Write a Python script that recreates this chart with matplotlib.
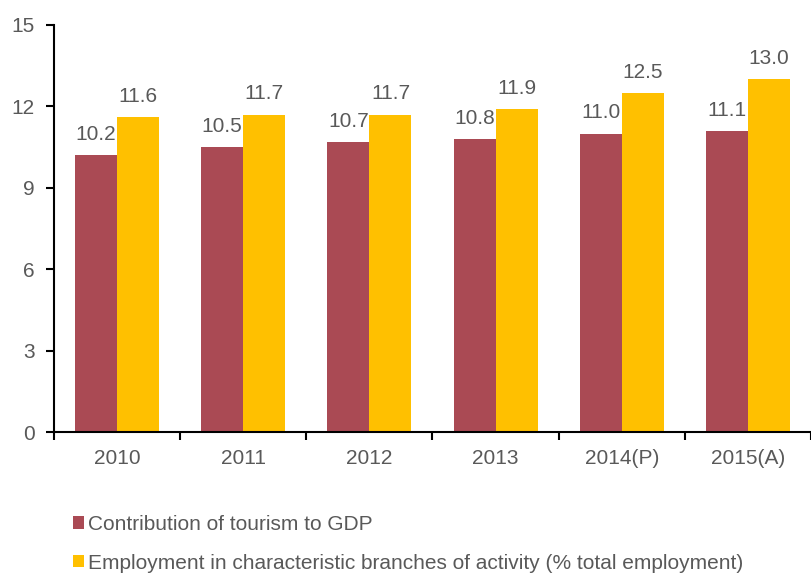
import matplotlib.pyplot as plt
import numpy as np

years = ['2010', '2011', '2012', '2013', '2014(P)', '2015(A)']
gdp = [10.2, 10.5, 10.7, 10.8, 11.0, 11.1]
employment = [11.6, 11.7, 11.7, 11.9, 12.5, 13.0]
series_names = ['Contribution of tourism to GDP',
                'Employment in characteristic branches of activity (% total employment)']

plt.rcParams['font.family'] = ['Liberation Sans', 'DejaVu Sans']
text_color = '#595959'
maroon = '#AA4A54'
gold = '#FFC000'
fs = 15

fig = plt.figure(figsize=(8.11, 5.74), dpi=100)
ax = fig.add_axes([54 / 811, 1 - 432 / 574, 1 - 54 / 811, (432 - 25) / 574])

x = np.arange(len(years))
w = 1 / 3
b1 = ax.bar(x - w / 2, gdp, w, color=maroon, label=series_names[0])
b2 = ax.bar(x + w / 2, employment, w, color=gold, label=series_names[1])

for bars, vals in ((b1, gdp), (b2, employment)):
    for bar, v in zip(bars, vals):
        ax.annotate(f'{v:.1f}', (bar.get_x() + bar.get_width() / 2, v),
                    xytext=(0, 8), textcoords='offset points',
                    ha='center', va='bottom', fontsize=fs, color=text_color)

ax.set_xlim(-0.5, len(years) - 0.5)
ax.set_ylim(0, 15)
ax.set_yticks(np.arange(0, 16, 3))
ax.set_xticks(x)
ax.set_xticklabels(years)
ax.set_xticks(np.arange(-0.5, len(years)), minor=True)
ax.tick_params(axis='x', which='major', length=0, pad=12, labelsize=fs, labelcolor=text_color)
ax.tick_params(axis='x', which='minor', length=6, width=1.5, direction='out')
ax.tick_params(axis='y', length=6, width=1.5, labelsize=fs, labelcolor=text_color, pad=8)
for s in ('top', 'right'):
    ax.spines[s].set_visible(False)
for s in ('left', 'bottom'):
    ax.spines[s].set_linewidth(1.5)

fig.legend(handles=[b1, b2], loc='upper left', bbox_to_anchor=(54 / 811, 1 - 496 / 574),
           frameon=False, fontsize=fs, labelcolor=text_color,
           handlelength=0.55, handleheight=0.55, handletextpad=0.2, labelspacing=0.95)

fig.savefig('out.png', dpi=100)
